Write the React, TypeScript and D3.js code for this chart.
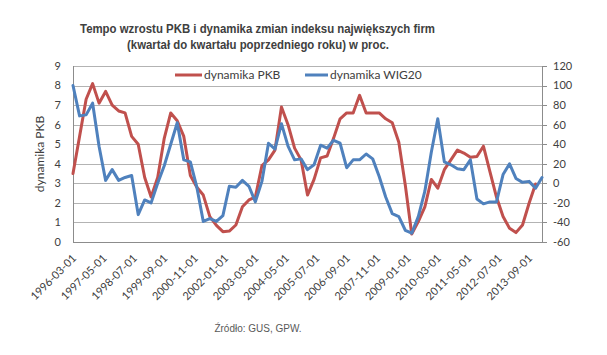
import React from "react";
import * as d3 from "d3";

const quarters: string[] = [
  "1996-03-01","1996-06-01","1996-09-01","1996-12-01",
  "1997-03-01","1997-06-01","1997-09-01","1997-12-01",
  "1998-03-01","1998-06-01","1998-09-01","1998-12-01",
  "1999-03-01","1999-06-01","1999-09-01","1999-12-01",
  "2000-03-01","2000-06-01","2000-09-01","2000-12-01",
  "2001-03-01","2001-06-01","2001-09-01","2001-12-01",
  "2002-03-01","2002-06-01","2002-09-01","2002-12-01",
  "2003-03-01","2003-06-01","2003-09-01","2003-12-01",
  "2004-03-01","2004-06-01","2004-09-01","2004-12-01",
  "2005-03-01","2005-06-01","2005-09-01","2005-12-01",
  "2006-03-01","2006-06-01","2006-09-01","2006-12-01",
  "2007-03-01","2007-06-01","2007-09-01","2007-12-01",
  "2008-03-01","2008-06-01","2008-09-01","2008-12-01",
  "2009-03-01","2009-06-01","2009-09-01","2009-12-01",
  "2010-03-01","2010-06-01","2010-09-01","2010-12-01",
  "2011-03-01","2011-06-01","2011-09-01","2011-12-01",
  "2012-03-01","2012-06-01","2012-09-01","2012-12-01",
  "2013-03-01","2013-06-01","2013-09-01","2013-12-01",
  "2014-03-01"
];

// GDP dynamics (left axis, %)
const pkb: number[] = [
  3.5, 5.4, 7.3, 8.1, 7.1, 7.7, 7.0, 6.7,
  6.6, 5.4, 5.0, 3.3, 2.3, 3.3, 5.3, 6.6,
  6.2, 5.4, 3.4, 2.8, 2.4, 1.3, 0.85, 0.53,
  0.56, 0.87, 1.8, 2.15, 2.3, 3.9, 4.2, 4.7,
  6.9, 6.0, 4.8, 4.2, 2.4, 3.2, 4.3, 4.4,
  5.3, 6.3, 6.6, 6.6, 7.5, 6.6, 6.6, 6.6,
  6.3, 6.1, 5.1, 2.9, 0.41, 1.04, 1.8, 3.2,
  2.75, 3.7, 4.2, 4.7, 4.55, 4.33, 4.37, 4.9,
  3.6, 2.3, 1.3, 0.7, 0.48, 0.87, 1.98, 2.97
];

// WIG20 dynamics (right axis, %)
const wig20: number[] = [
  100, 69, 70, 82, 38, 3, 14, 3,
  6, 8, -32, -17, -20, 0, 18, 40,
  62, 24, 22, -4, -39, -36, -39, -33,
  -3, -4, 3, -3, -19, 2, 41, 35,
  61, 38, 24, 25, 14, 19, 39, 36,
  44, 41, 16, 24, 24, 30, 25, 7,
  -14, -31, -34, -48, -51, -34, -8, 32,
  66, 22, 19, 15, 14, 24, -16, -21,
  -19, -19, 9, 20, 5, 1, 2, -5, 6
];

const xTickLabels: string[] = [
  "1996-03-01","1997-05-01","1998-07-01","1999-09-01","2000-11-01",
  "2002-01-01","2003-03-01","2004-05-01","2005-07-01","2006-09-01",
  "2007-11-01","2009-01-01","2010-03-01","2011-05-01","2012-07-01",
  "2013-09-01"
];
const leftTicks: number[] = [0, 1, 2, 3, 4, 5, 6, 7, 8, 9];
const rightTicks: number[] = [-60, -40, -20, 0, 20, 40, 60, 80, 100, 120];

const W = 607;
const H = 355;
const plot = { left: 73, right: 542, top: 66, bottom: 242 };
const RED = "#C0504D";
const BLUE = "#4F81BD";
const TXT = "#404040";
const GRID = "#b3b3b3";
const AXIS = "#8c8c8c";
const LABEL_FONT = "Lato, 'Open Sans', 'Liberation Sans', sans-serif";
const TITLE_FONT = "'Liberation Sans', Arial, sans-serif";

export default function App() {
  const parse = d3.utcParse("%Y-%m-%d");
  const dates = quarters.map((q) => parse(q) as Date);
  const x = d3
    .scaleUtc()
    .domain([dates[0], dates[dates.length - 1]])
    .range([plot.left, plot.right]);
  const yL = d3.scaleLinear().domain([0, 9]).range([plot.bottom, plot.top]);
  const yR = d3.scaleLinear().domain([-60, 120]).range([plot.bottom, plot.top]);

  const linePkb = d3
    .line<number>()
    .x((_, i) => x(dates[i]))
    .y((d) => yL(d));
  const lineWig = d3
    .line<number>()
    .x((_, i) => x(dates[i]))
    .y((d) => yR(d));

  return (
    <svg
      width={W}
      height={H}
      style={{ position: "absolute", left: 0, top: 0, background: "#fff" }}
    >
      <rect x={0} y={0} width={W} height={H} fill="#fff" />
      {/* title */}
      <text
        x={80}
        y={33}
        textLength={355}
        lengthAdjust="spacingAndGlyphs"
        fontFamily={TITLE_FONT}
        fontWeight="bold"
        fontSize={12.5}
        fill={TXT}
      >
        Tempo wzrostu PKB i dynamika zmian indeksu największych firm
      </text>
      <text
        x={127}
        y={49}
        textLength={262}
        lengthAdjust="spacingAndGlyphs"
        fontFamily={TITLE_FONT}
        fontWeight="bold"
        fontSize={12.5}
        fill={TXT}
      >
        (kwartał do kwartału poprzedniego roku) w proc.
      </text>

      {/* gridlines */}
      {leftTicks.map((t) => (
        <line
          key={"g" + t}
          x1={plot.left}
          x2={plot.right}
          y1={Math.round(yL(t)) + 0.5}
          y2={Math.round(yL(t)) + 0.5}
          stroke={t === 0 ? AXIS : GRID}
          strokeWidth={1}
        />
      ))}
      {/* left axis line */}
      <line
        x1={plot.left + 0.5}
        x2={plot.left + 0.5}
        y1={plot.top}
        y2={plot.bottom}
        stroke={AXIS}
      />
      {/* right axis line + ticks */}
      <line
        x1={plot.right + 0.5}
        x2={plot.right + 0.5}
        y1={plot.top}
        y2={plot.bottom}
        stroke={AXIS}
      />
      {rightTicks.map((t) => (
        <line
          key={"rt" + t}
          x1={plot.right}
          x2={plot.right + 5}
          y1={Math.round(yR(t)) + 0.5}
          y2={Math.round(yR(t)) + 0.5}
          stroke={AXIS}
        />
      ))}

      {/* left tick labels */}
      {leftTicks.map((t) => (
        <text
          key={"lt" + t}
          x={61}
          y={yL(t)}
          dy="0.35em"
          textAnchor="end"
          fontFamily={LABEL_FONT}
          fontSize={11}
          fill={TXT}
        >
          {t}
        </text>
      ))}
      {/* right tick labels */}
      {rightTicks.map((t) => (
        <text
          key={"rl" + t}
          x={553}
          y={yR(t)}
          dy="0.35em"
          textAnchor="start"
          fontFamily={LABEL_FONT}
          fontSize={11}
          fill={TXT}
        >
          {t}
        </text>
      ))}
      {/* left axis title */}
      <text
        transform={`translate(44, ${(plot.top + plot.bottom) / 2}) rotate(-90)`}
        textAnchor="middle"
        fontFamily={LABEL_FONT}
        fontSize={12}
        fill={TXT}
      >
        dynamika PKB
      </text>

      {/* x tick labels */}
      {xTickLabels.map((d) => {
        const px = x(parse(d) as Date);
        return (
          <text
            key={"xl" + d}
            transform={`translate(${px + 4}, 259) rotate(-45)`}
            textAnchor="end"
            fontFamily={LABEL_FONT}
            fontSize={11}
            fill={TXT}
          >
            {d}
          </text>
        );
      })}

      {/* series */}
      <path
        d={linePkb(pkb) || ""}
        fill="none"
        stroke={RED}
        strokeWidth={3}
        strokeLinejoin="round"
        strokeLinecap="round"
      />
      <path
        d={lineWig(wig20) || ""}
        fill="none"
        stroke={BLUE}
        strokeWidth={3}
        strokeLinejoin="round"
        strokeLinecap="round"
      />

      {/* legend */}
      <line x1={175} x2={202} y1={75} y2={75} stroke={RED} strokeWidth={3} />
      <text
        x={204}
        y={75}
        dy="0.35em"
        fontFamily={LABEL_FONT}
        fontSize={12}
        fill={TXT}
      >
        dynamika PKB
      </text>
      <line x1={305} x2={328} y1={75} y2={75} stroke={BLUE} strokeWidth={3} />
      <text
        x={330}
        y={75}
        dy="0.35em"
        fontFamily={LABEL_FONT}
        fontSize={12}
        fill={TXT}
      >
        dynamika WIG20
      </text>

      {/* source */}
      <text
        x={258}
        y={332}
        textAnchor="middle"
        fontFamily={TITLE_FONT}
        fontSize={10}
        fill="#595959"
      >
        Źródło: GUS, GPW.
      </text>
    </svg>
  );
}
